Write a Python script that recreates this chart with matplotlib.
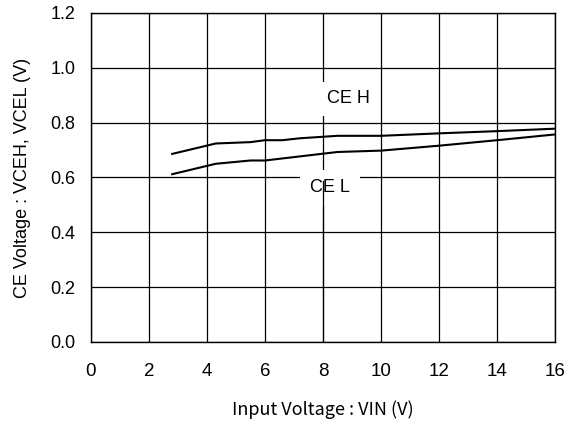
import matplotlib
matplotlib.use("Agg")
import matplotlib.pyplot as plt

vin_h = [2.8, 4.3, 5.5, 6.0, 6.6, 7.2, 8.5, 10.0, 12.0, 14.0, 16.0]
vceh = [0.686, 0.724, 0.729, 0.736, 0.736, 0.743, 0.752, 0.752, 0.761, 0.769, 0.778]

vin_l = [2.8, 4.3, 5.5, 6.0, 8.5, 10.0, 12.0, 14.0, 16.0]
vcel = [0.612, 0.650, 0.662, 0.662, 0.693, 0.698, 0.716, 0.736, 0.757]

xticks = [0, 2, 4, 6, 8, 10, 12, 14, 16]
yticks = [0.0, 0.2, 0.4, 0.6, 0.8, 1.0, 1.2]

plt.rcParams['font.family'] = ['Liberation Sans', 'DejaVu Sans']

fig = plt.figure(figsize=(5.77, 4.23), dpi=100)
ax = fig.add_axes([0.1577, 0.1915, 0.8042, 0.7778])

ax.plot(vin_h, vceh, color='black', lw=1.5, zorder=4)
ax.plot(vin_l, vcel, color='black', lw=1.5, zorder=4)

ax.set_xlim(0, 16)
ax.set_ylim(0, 1.2)
ax.set_xticks(xticks)
ax.set_yticks(yticks)
ax.set_xticklabels([str(v) for v in xticks])
ax.set_yticklabels([f"{v:.1f}" for v in yticks])
ax.tick_params(length=0)
ax.tick_params(axis='x', pad=15, labelsize=13.5)
ax.tick_params(axis='y', pad=11, labelsize=13)
ax.grid(True, color='black', lw=0.9)
ax.set_axisbelow(True)
for s in ax.spines.values():
    s.set_linewidth(1.0)

# curve labels sit on white boxes that hide the grid
ax.text(8.86, 0.887, 'CE H', ha='center', va='center', fontsize=13,
        bbox=dict(facecolor='white', edgecolor='none', pad=6), zorder=3)
ax.text(8.24, 0.562, 'CE L', ha='center', va='center', fontsize=13,
        bbox=dict(facecolor='white', edgecolor='none', pad=7), zorder=3)
# grid line at x=8 still shows through the lower label
ax.axvline(8, ymin=0, ymax=0.489, color='black', lw=0.9, zorder=3.5)

ax.set_xlabel('Input Voltage : VIN (V)', fontsize=13, va='center',
              family=['Noto Sans CJK JP', 'DejaVu Sans'])
ax.xaxis.set_label_coords(0.5, -0.207)
ax.set_ylabel('CE Voltage : VCEH, VCEL (V)', fontsize=13, va='center')
ax.yaxis.set_label_coords(-0.147, 0.5)

fig.savefig('out.png', dpi=100)
